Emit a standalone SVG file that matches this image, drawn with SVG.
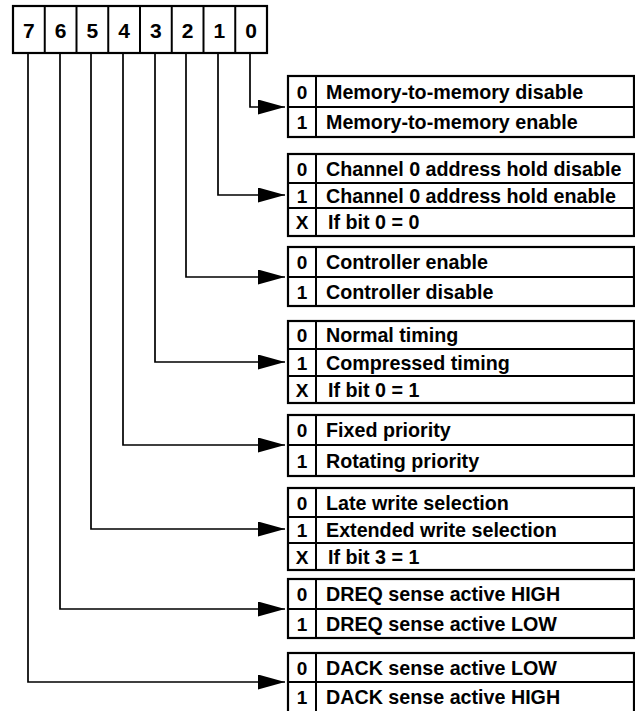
<svg xmlns="http://www.w3.org/2000/svg" width="635" height="711" viewBox="0 0 635 711">
<style>
.bg{fill:#fff}
.box{fill:none;stroke:#000;stroke-width:2.2}
.div{stroke:#000;stroke-width:2}
.conn{fill:none;stroke:#000;stroke-width:1.7}
.bit{font-family:"Liberation Sans",Arial,sans-serif;font-weight:bold;font-size:21px;text-anchor:middle;fill:#000}
.v{font-family:"Liberation Sans",Arial,sans-serif;font-weight:bold;font-size:19px;text-anchor:middle;fill:#000}
.t{font-family:"Liberation Sans",Arial,sans-serif;font-weight:bold;font-size:19.7px;fill:#000}
</style>
<defs>
<marker id="ah" markerUnits="userSpaceOnUse" markerWidth="28" markerHeight="16" refX="27" refY="7.5" orient="auto">
<path d="M0,0 L27,7.5 L0,15 Z" fill="#000"/>
</marker>
</defs>
<rect class="bg" x="0" y="0" width="635" height="711"/>
<g id="register">
<rect class="box" x="13" y="6" width="254" height="47"/>
<line class="div" x1="44.75" y1="6" x2="44.75" y2="53"/>
<line class="div" x1="76.5" y1="6" x2="76.5" y2="53"/>
<line class="div" x1="108.25" y1="6" x2="108.25" y2="53"/>
<line class="div" x1="140" y1="6" x2="140" y2="53"/>
<line class="div" x1="171.75" y1="6" x2="171.75" y2="53"/>
<line class="div" x1="203.5" y1="6" x2="203.5" y2="53"/>
<line class="div" x1="235.25" y1="6" x2="235.25" y2="53"/>
<text class="bit" x="28.9" y="38">7</text>
<text class="bit" x="60.6" y="38">6</text>
<text class="bit" x="92.4" y="38">5</text>
<text class="bit" x="124.1" y="38">4</text>
<text class="bit" x="155.9" y="38">3</text>
<text class="bit" x="187.6" y="38">2</text>
<text class="bit" x="219.4" y="38">1</text>
<text class="bit" x="251.1" y="38">0</text>
</g>
<g id="connectors">
<path class="conn" d="M250,53 V107 H285" marker-end="url(#ah)"/>
<path class="conn" d="M218,53 V195 H285" marker-end="url(#ah)"/>
<path class="conn" d="M186,53 V277 H285" marker-end="url(#ah)"/>
<path class="conn" d="M155,53 V362 H285" marker-end="url(#ah)"/>
<path class="conn" d="M123,53 V445 H285" marker-end="url(#ah)"/>
<path class="conn" d="M91,53 V529 H285" marker-end="url(#ah)"/>
<path class="conn" d="M60,53 V609 H285" marker-end="url(#ah)"/>
<path class="conn" d="M28,53 V682 H285" marker-end="url(#ah)"/>
</g>
<g id="bit0">
<rect class="box" x="288" y="76" width="346" height="61"/>
<line class="div" x1="316" y1="76" x2="316" y2="137"/>
<line class="div" x1="288" y1="107" x2="634" y2="107"/>
<text class="v" x="302" y="98.5">0</text><text class="t" x="326" y="98.5">Memory-to-memory disable</text>
<text class="v" x="302" y="129">1</text><text class="t" x="326" y="129">Memory-to-memory enable</text>
</g>
<g id="bit1">
<rect class="box" x="288" y="154" width="346" height="82"/>
<line class="div" x1="316" y1="154" x2="316" y2="236"/>
<line class="div" x1="288" y1="183" x2="634" y2="183"/>
<line class="div" x1="288" y1="208" x2="634" y2="208"/>
<text class="v" x="302" y="175.5">0</text><text class="t" x="326" y="175.5">Channel 0 address hold disable</text>
<text class="v" x="302" y="202.5">1</text><text class="t" x="326" y="202.5">Channel 0 address hold enable</text>
<text class="v" x="302" y="229">X</text><text class="t" x="328" y="229">If bit 0 = 0</text>
</g>
<g id="bit2">
<rect class="box" x="288" y="247" width="346" height="59"/>
<line class="div" x1="316" y1="247" x2="316" y2="306"/>
<line class="div" x1="288" y1="277" x2="634" y2="277"/>
<text class="v" x="302" y="269">0</text><text class="t" x="326" y="269">Controller enable</text>
<text class="v" x="302" y="298.5">1</text><text class="t" x="326" y="298.5">Controller disable</text>
</g>
<g id="bit3">
<rect class="box" x="288" y="321" width="346" height="82"/>
<line class="div" x1="316" y1="321" x2="316" y2="403"/>
<line class="div" x1="288" y1="349" x2="634" y2="349"/>
<line class="div" x1="288" y1="376" x2="634" y2="376"/>
<text class="v" x="302" y="342">0</text><text class="t" x="326" y="342">Normal timing</text>
<text class="v" x="302" y="369.5">1</text><text class="t" x="326" y="369.5">Compressed timing</text>
<text class="v" x="302" y="396.5">X</text><text class="t" x="328" y="396.5">If bit 0 = 1</text>
</g>
<g id="bit4">
<rect class="box" x="288" y="415" width="346" height="61"/>
<line class="div" x1="316" y1="415" x2="316" y2="476"/>
<line class="div" x1="288" y1="445" x2="634" y2="445"/>
<text class="v" x="302" y="437">0</text><text class="t" x="326" y="437">Fixed priority</text>
<text class="v" x="302" y="467.5">1</text><text class="t" x="326" y="467.5">Rotating priority</text>
</g>
<g id="bit5">
<rect class="box" x="288" y="488" width="346" height="82"/>
<line class="div" x1="316" y1="488" x2="316" y2="570"/>
<line class="div" x1="288" y1="517" x2="634" y2="517"/>
<line class="div" x1="288" y1="543" x2="634" y2="543"/>
<text class="v" x="302" y="509.5">0</text><text class="t" x="326" y="509.5">Late write selection</text>
<text class="v" x="302" y="537">1</text><text class="t" x="326" y="537">Extended write selection</text>
<text class="v" x="302" y="563.5">X</text><text class="t" x="328" y="563.5">If bit 3 = 1</text>
</g>
<g id="bit6">
<rect class="box" x="288" y="579" width="346" height="59"/>
<line class="div" x1="316" y1="579" x2="316" y2="638"/>
<line class="div" x1="288" y1="609" x2="634" y2="609"/>
<text class="v" x="302" y="601">0</text><text class="t" x="326" y="601">DREQ sense active HIGH</text>
<text class="v" x="302" y="630.5">1</text><text class="t" x="326" y="630.5">DREQ sense active LOW</text>
</g>
<g id="bit7">
<rect class="box" x="288" y="653" width="346" height="62"/>
<line class="div" x1="316" y1="653" x2="316" y2="715"/>
<line class="div" x1="288" y1="682" x2="634" y2="682"/>
<text class="v" x="302" y="674.5">0</text><text class="t" x="326" y="674.5">DACK sense active LOW</text>
<text class="v" x="302" y="703.5">1</text><text class="t" x="326" y="703.5">DACK sense active HIGH</text>
</g>
</svg>
